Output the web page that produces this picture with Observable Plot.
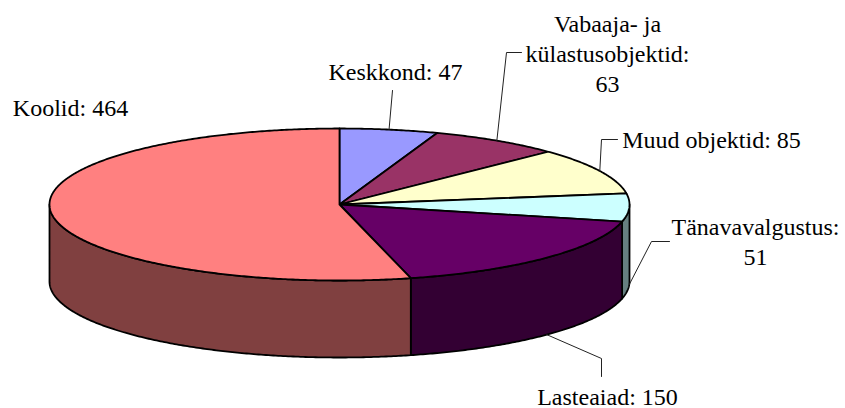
<!DOCTYPE html>
<html>
<head>
<meta charset="utf-8">
<script src="https://cdn.jsdelivr.net/npm/d3@7"></script>
<script src="https://cdn.jsdelivr.net/npm/@observablehq/plot@0.6"></script>
<style>html,body{margin:0;padding:0;background:#fff}svg{display:block}</style>
</head>
<body>
<div id="chart"></div>
<script>
// Slices, clockwise from the top of the pie
const categories = ["Keskkond", "Vabaaja- ja\nkülastusobjektid", "Muud objektid", "Tänavavalgustus", "Lasteaiad", "Koolid"];
const values = [47, 63, 85, 51, 150, 464];
const separators = [" ", "\n", " ", "\n", " ", " "];
const topColors = ["#9999FF", "#993366", "#FFFFCC", "#CCFFFF", "#660066", "#FF8080"];
const sideColors = ["#4D4D80", "#4D1A33", "#808066", "#668080", "#330033", "#804040"];

// Label placement (centre of text block, bottom of last line) and leader elbows
const labelX = [395, 607, 711, 755, 607, 70];
const labelY = [79, 91, 147, 264, 404, 115];
const leaderElbows = [
  [[392, 90]],
  [[506, 52], [521, 52]],
  [[601, 139], [617, 139]],
  [[651, 241], [669, 241]],
  [[601, 358], [601, 376]],
  []
];

// Pie geometry in chart units
const cx = 339, cy = 204, rx = 290, ry = 76, depth = 77;
const total = d3.sum(values);
const cum = d3.cumsum(values);
const startDeg = values.map((v, i) => (cum[i] - v) / total * 360);
const endDeg = values.map((v, i) => cum[i] / total * 360);
const onRim = (deg, drop = 0) => {
  const t = deg * Math.PI / 180;
  return {x: cx + rx * Math.sin(t), y: cy - ry * Math.cos(t) + drop};
};
const degs = (a, b) => {
  const n = Math.max(1, Math.ceil(Math.abs(b - a) * 2));
  return d3.range(n + 1).map((k) => a + (b - a) * k / n);
};

const style = {stroke: "#000", strokeWidth: 1.8, strokeLinejoin: "round", curve: "linear"};
const marks = [];

// Walls: only the front half (90deg to 270deg) of each slice is visible
values.forEach((v, i) => {
  const a = Math.max(startDeg[i], 90), b = Math.min(endDeg[i], 270);
  if (b <= a) return;
  const pts = [...degs(a, b).map((d) => onRim(d)), ...degs(b, a).map((d) => onRim(d, depth))];
  pts.push(pts[0]);
  marks.push(Plot.line(pts, {x: "x", y: "y", fill: sideColors[i], ...style}));
});

// Top faces
values.forEach((v, i) => {
  const pts = [{x: cx, y: cy}, ...degs(startDeg[i], endDeg[i]).map((d) => onRim(d)), {x: cx, y: cy}];
  marks.push(Plot.line(pts, {x: "x", y: "y", fill: topColors[i], ...style}));
});

// Leader lines start at each slice's mid-angle on the visible rim
values.forEach((v, i) => {
  if (!leaderElbows[i].length) return;
  const mid = (startDeg[i] + endDeg[i]) / 2;
  const start = onRim(mid, mid > 90 ? depth : 0);
  const pts = [start, ...leaderElbows[i].map(([x, y]) => ({x, y}))];
  marks.push(Plot.line(pts, {x: "x", y: "y", stroke: "#222", strokeWidth: 1, curve: "linear"}));
});

// Labels
const labels = categories.map((c, i) => ({
  text: `${c}:${separators[i]}${values[i]}`,
  x: labelX[i],
  y: labelY[i]
}));
marks.push(Plot.text(labels, {
  x: "x", y: "y", text: "text",
  fontFamily: "Liberation Serif",
  fontSize: 24,
  lineHeight: 1.25,
  lineAnchor: "bottom",
  textAnchor: "middle",
  fill: "#000"
}));

const chart = Plot.plot({
  width: 845, height: 408,
  margin: 0,
  x: {domain: [0, 845], range: [0, 845], axis: null},
  y: {domain: [0, 408], range: [0, 408], axis: null},
  style: {background: "#fff"},
  marks
});
document.getElementById("chart").append(chart);
</script>
</body>
</html>
